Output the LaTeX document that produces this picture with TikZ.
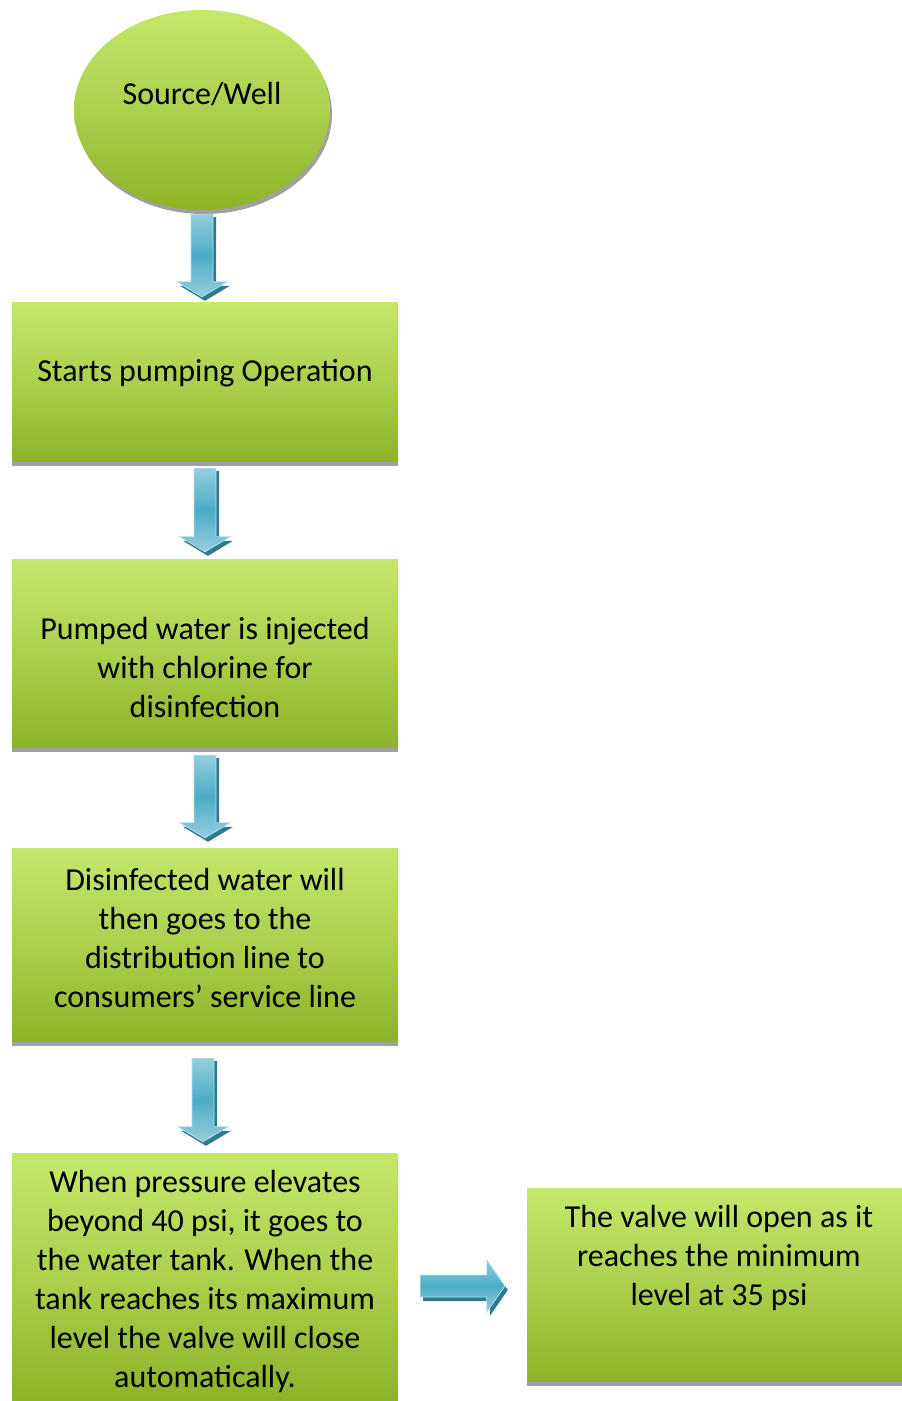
\documentclass[tikz,border=0pt]{standalone}
\usepackage{fontspec}
\setmainfont{Carlito}
\usetikzlibrary{calc,shapes.geometric}
\definecolor{gtop}{HTML}{C3E86B}
\definecolor{gbot}{HTML}{8DB328}
\definecolor{gshade}{HTML}{A0A0A0}
\definecolor{blight}{HTML}{95CEDE}
\definecolor{bmid}{HTML}{4BACC6}
\definecolor{bdark}{HTML}{2E7B8F}
\definecolor{bedge}{HTML}{B4DDE8}
\tikzset{
  box/.style={rectangle, inner sep=0pt, top color=gtop, bottom color=gbot, middle color=gtop!55!gbot},
  txt/.style={align=center, font=\fontsize{32}{39}\selectfont, inner sep=0pt},
  arrowbody/.style={top color=blight, bottom color=blight, middle color=bmid, draw=bedge, line width=0.8pt},
  arrowshadow/.style={fill=bdark},
}
% vertical block arrow: #1 top centre, #2 tip
\newcommand\blockdown[2]{%
  \path let \p1=#1, \p2=#2 in
    [arrowshadow] ({\x1-11pt+3pt},{\y1-3pt}) -- ({\x1+11pt+3pt},{\y1-3pt}) -- ({\x1+11pt+3pt},{\y2+15pt-4pt})
    -- ({\x1+25pt+3pt},{\y2+15pt-4pt}) -- ({\x1+3pt},{\y2-4pt}) -- ({\x1-25pt+3pt},{\y2+15pt-4pt})
    -- ({\x1-11pt+3pt},{\y2+15pt-4pt}) -- cycle;
  \path let \p1=#1, \p2=#2 in
    [arrowbody] ({\x1-11pt},{\y1}) -- ({\x1+11pt},{\y1}) -- ({\x1+11pt},{\y2+15pt})
    -- ({\x1+25pt},{\y2+15pt}) -- ({\x1},{\y2}) -- ({\x1-25pt},{\y2+15pt}) -- ({\x1-11pt},{\y2+15pt}) -- cycle;
}
% horizontal block arrow: #1 tail centre, #2 tip
\newcommand\blockright[2]{%
  \path let \p1=#1, \p2=#2 in
    [arrowshadow] ({\x1+3pt},{\y1+11pt-4pt}) -- ({\x2-18pt+3pt},{\y1+11pt-4pt}) -- ({\x2-18pt+3pt},{\y1+26pt-4pt})
    -- ({\x2+3pt},{\y1-4pt}) -- ({\x2-18pt+3pt},{\y1-26pt-4pt}) -- ({\x2-18pt+3pt},{\y1-11pt-4pt}) -- ({\x1+3pt},{\y1-11pt-4pt}) -- cycle;
  \path let \p1=#1, \p2=#2 in
    [arrowbody] ({\x1},{\y1+11pt}) -- ({\x2-18pt},{\y1+11pt}) -- ({\x2-18pt},{\y1+26pt})
    -- ({\x2},{\y1}) -- ({\x2-18pt},{\y1-26pt}) -- ({\x2-18pt},{\y1-11pt}) -- ({\x1},{\y1-11pt}) -- cycle;
}
\begin{document}
\begin{tikzpicture}[x=1pt,y=-1pt]
\useasboundingbox[fill=white] (0,0) rectangle (902,1401);

% source ellipse with its grey shadow
\fill[gshade] (204,114) ellipse [x radius=128, y radius=100];
\node[ellipse, inner sep=0pt, minimum width=256, minimum height=200, top color=gtop, bottom color=gbot, middle color=gtop!55!gbot] (src) at (202,110) {};
\node[txt] (tsrc) at (202,94) {Source/Well};

% process boxes, each with a grey strip under it
\fill[gshade] (12,461) rectangle (398,466);
\node[box, minimum width=386, minimum height=159] (b1) at (205,381.5) {};
\node[txt] (t1) at (205,373) {Starts pumping Operation};

\fill[gshade] (12,747) rectangle (398,752);
\node[box, minimum width=386, minimum height=188] (b2) at (205,653) {};
\node[txt] (t2) at (205,667) {Pumped water is injected\\with chlorine for\\disinfection};

\fill[gshade] (12,1041) rectangle (398,1046);
\node[box, minimum width=386, minimum height=193] (b3) at (205,944.5) {};
\node[txt] (t3) at (205,938) {Disinfected water will\\then goes to the\\distribution line to\\consumers’ service line};

\node[box, minimum width=386, minimum height=248] (b4) at (205,1277) {};
\node[txt] (t4) at (205,1281.5) {When pressure elevates\\beyond 40 psi, it goes to\\the water tank. When the\\tank reaches its maximum\\level the valve will close\\automatically.};

\fill[gshade] (527,1381) rectangle (902,1386);
\node[box, minimum width=375, minimum height=193] (b5) at (714.5,1284.5) {};
\node[txt] (t5) at (719,1258) {The valve will open as it\\reaches the minimum\\level at 35 psi};

% flow arrows
\blockdown{($(src.south)+(0,4)$)}{($(b1.north)+(0,-5)$)}
\blockdown{($(b1.south)+(0,7)$)}{($(b2.north)+(0,-7)$)}
\blockdown{($(b2.south)+(0,8)$)}{($(b3.north)+(0,-10)$)}
\blockdown{($(b3.south)+(-2,17)$)}{($(b4.north)+(-2,-11)$)}
\blockright{($(b4.east)+(22,9)$)}{($(b5.west)+(-22,0)$)}
\end{tikzpicture}
\end{document}
